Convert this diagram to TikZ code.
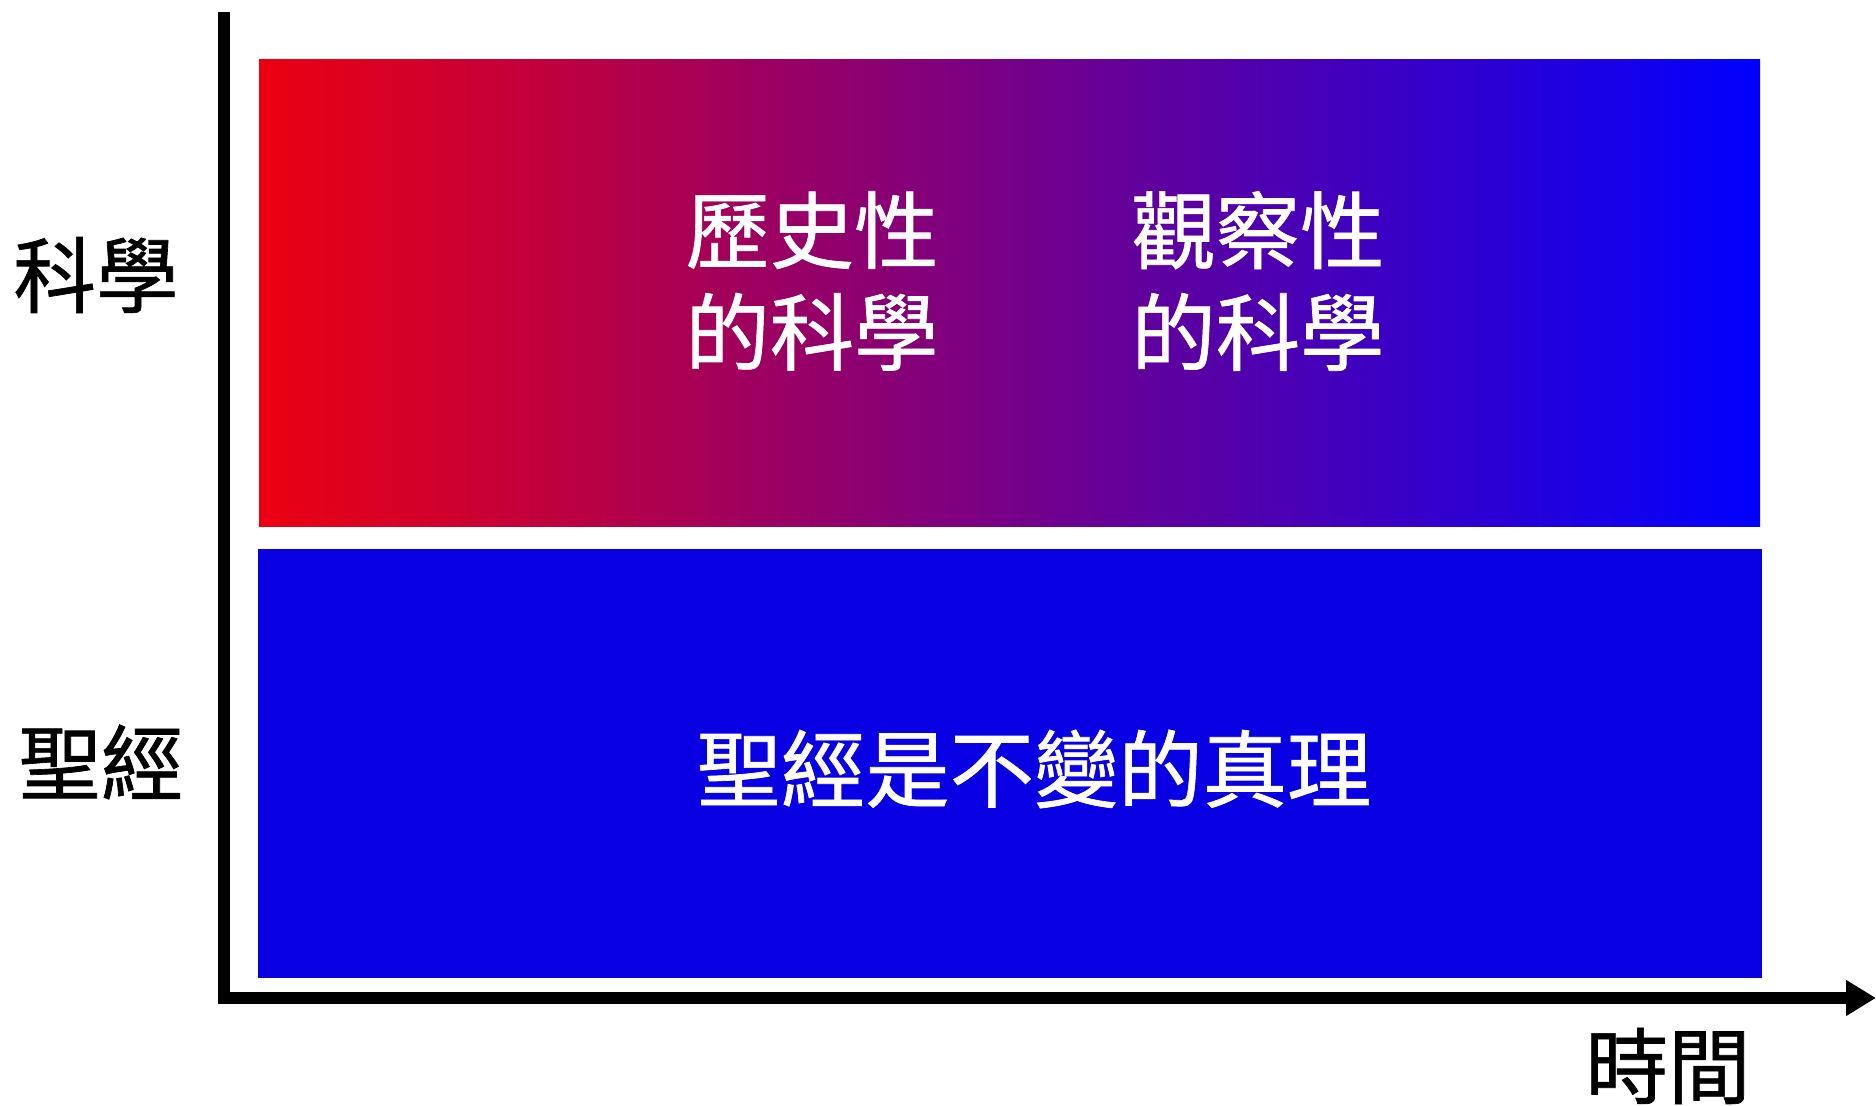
\documentclass[tikz,border=0pt]{standalone}
\usepackage{fontspec}
\setmainfont{Noto Sans CJK TC}[FakeBold=0.8]
\usetikzlibrary{arrows.meta}
\definecolor{scired}{RGB}{236,0,16}
\definecolor{sciblue}{RGB}{0,0,255}
\definecolor{bibleblue}{RGB}{10,0,228}
\tikzset{
  axisline/.style={line width=3.4pt, line join=miter},
  bandtext/.style={text=white, font=\fontsize{24pt}{29pt}\selectfont, align=center, inner sep=0pt},
  sidetext/.style={text=black, font=\fontsize{23.5pt}{28pt}\selectfont, inner sep=0pt}
}
\begin{document}
\begin{tikzpicture}[scale =1.0]
\useasboundingbox (0,0) rectangle (18.76,11.06);
\shade[left color=scired, right color=sciblue] (2.59,5.79) rectangle (17.60,10.46);
\fill[bibleblue] (2.58,1.28) rectangle (17.62,5.57);
\coordinate (ytop) at (2.24,10.94);
\coordinate (origin) at (2.24,1.08);
\coordinate (xend) at (18.76,1.08);
\draw[axisline, -{Triangle[length=0.30cm, width=0.34cm]}] (ytop) -- (origin) -- (xend);
\node[bandtext] (hist) at (8.12,8.25) {歷史性\\的科學};
\node[bandtext] (obs) at (12.58,8.25) {觀察性\\的科學};
\node[bandtext] (truth) at (10.34,3.37) {聖經是不變的真理};
\node[sidetext] (science) at (0.96,8.31) {科學};
\node[sidetext] (bible) at (1.01,3.44) {聖經};
\node[sidetext] (time) at (16.68,0.40) {時間};
\end{tikzpicture}
\end{document}
